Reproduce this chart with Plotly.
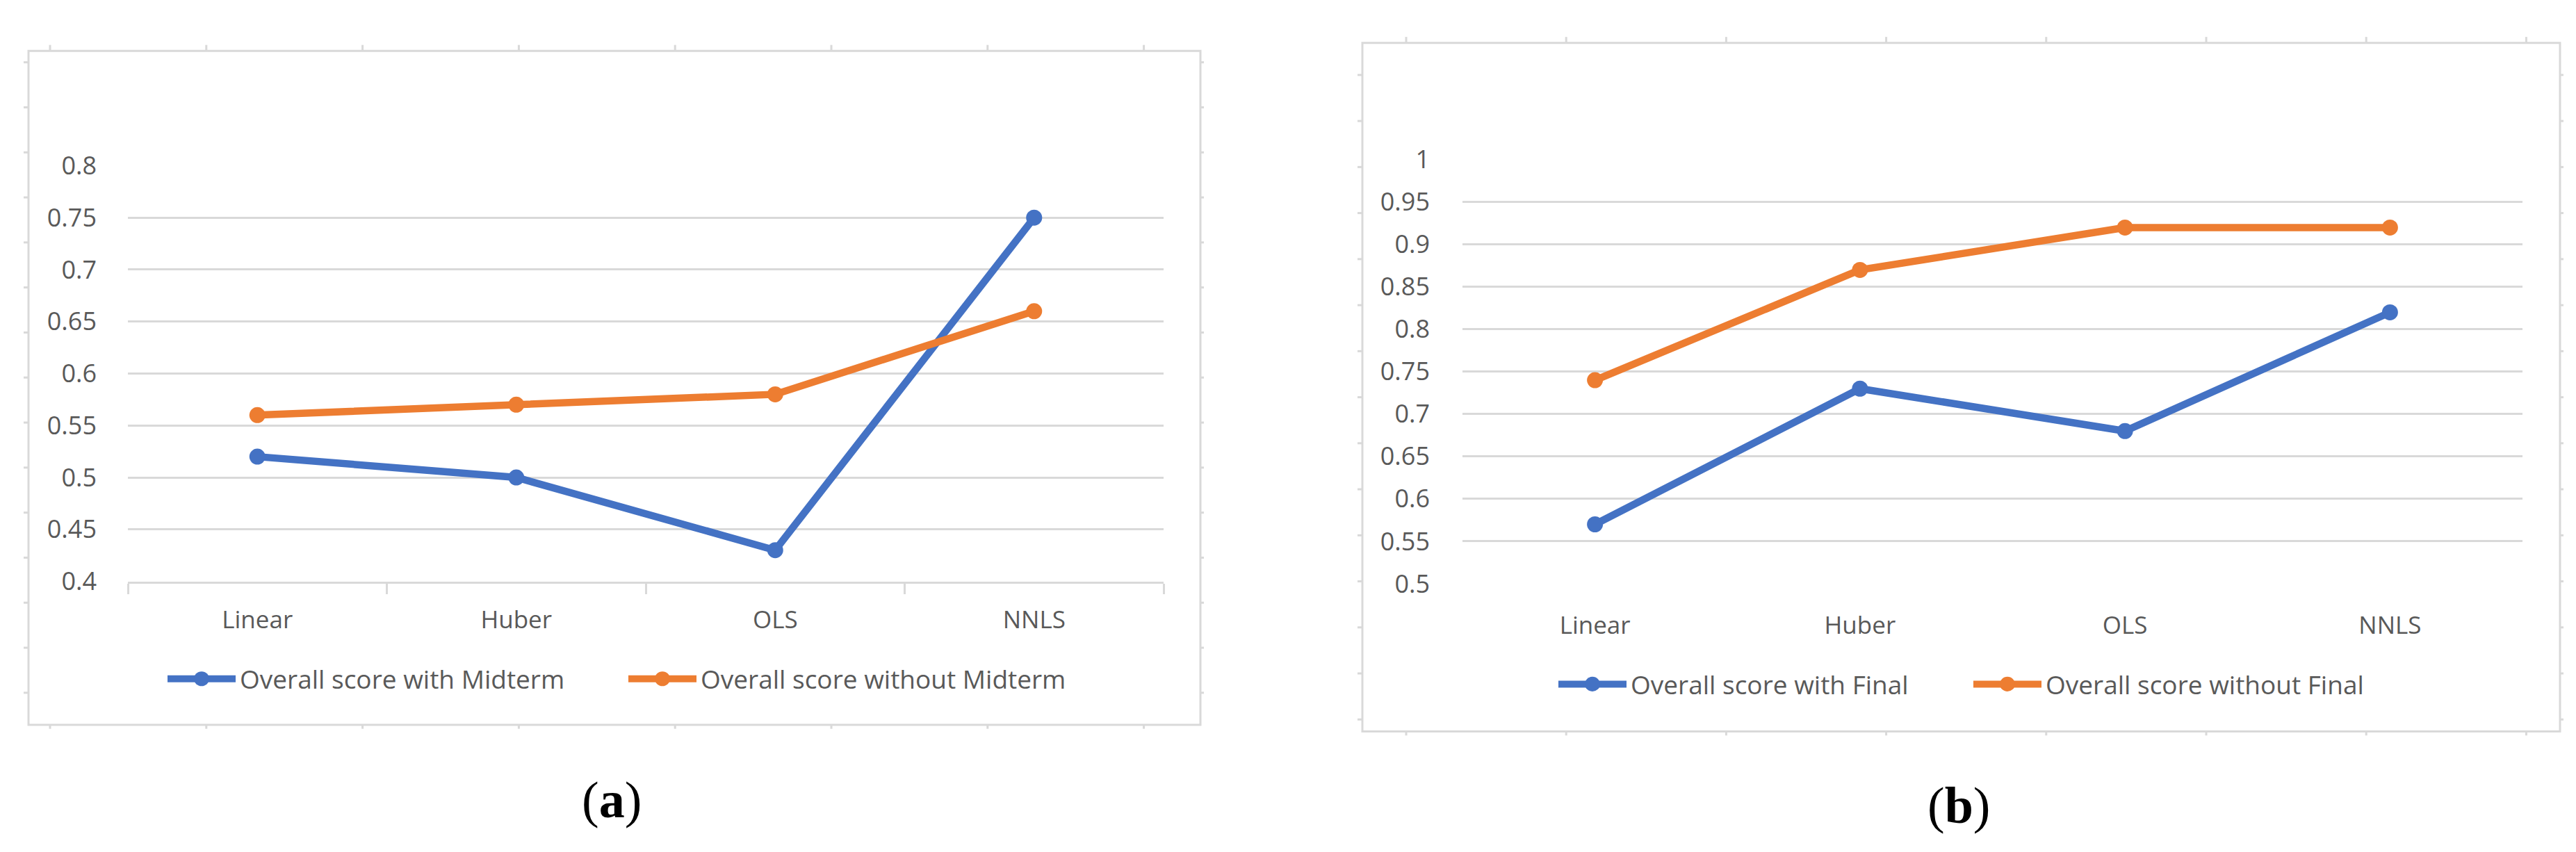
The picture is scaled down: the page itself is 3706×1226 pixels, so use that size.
import plotly.graph_objects as go

# ---------------- data ----------------
categories = ["Linear", "Huber", "OLS", "NNLS"]
with_midterm = [0.52, 0.50, 0.43, 0.75]
without_midterm = [0.56, 0.57, 0.58, 0.66]
with_final = [0.57, 0.73, 0.68, 0.82]
without_final = [0.74, 0.87, 0.92, 0.92]

names_a = ["Overall score with Midterm", "Overall score without Midterm"]
names_b = ["Overall score with Final", "Overall score without Final"]

yticks_a = [0.4, 0.45, 0.5, 0.55, 0.6, 0.65, 0.7, 0.75, 0.8]
ytext_a = ["0.4", "0.45", "0.5", "0.55", "0.6", "0.65", "0.7", "0.75", "0.8"]
yticks_b = [0.5, 0.55, 0.6, 0.65, 0.7, 0.75, 0.8, 0.85, 0.9, 0.95, 1.0]
ytext_b = ["0.5", "0.55", "0.6", "0.65", "0.7", "0.75", "0.8", "0.85", "0.9", "0.95", "1"]

# ---------------- style ----------------
W, H = 3706, 1226
BLUE = "#4472C4"
ORANGE = "#ED7D31"
GRID = "#D9D9D9"
TXT = "#595959"
FONT = "Open Sans"


def px(x):
    return x / W


def py(y):
    return 1 - y / H


fig = go.Figure()

series = [
    ("x", "y", with_midterm, names_a[0], BLUE),
    ("x", "y", without_midterm, names_a[1], ORANGE),
    ("x2", "y2", with_final, names_b[0], BLUE),
    ("x2", "y2", without_final, names_b[1], ORANGE),
]
for xa, ya, vals, name, col in series:
    fig.add_trace(go.Scatter(
        x=categories, y=vals, name=name, xaxis=xa, yaxis=ya,
        mode="lines+markers",
        line=dict(color=col, width=10.5),
        marker=dict(color=col, size=23),
        showlegend=False,
    ))

axis_font = dict(family=FONT, size=36, color=TXT)

fig.update_layout(
    width=W, height=H,
    margin=dict(l=0, r=0, t=0, b=0),
    paper_bgcolor="white", plot_bgcolor="white",
    font=dict(family=FONT, color=TXT),
    xaxis=dict(
        domain=[px(176), px(1666)], anchor="y",
        type="category", range=[-0.5, 3.5],
        showgrid=False, showline=True, linecolor=GRID, linewidth=3,
        ticks="outside", tickson="boundaries", ticklen=15, tickwidth=3, tickcolor=GRID,
        tickfont=dict(family=FONT, size=35, color=TXT), ticklabelstandoff=22,
    ),
    yaxis=dict(
        domain=[py(837), py(214)], anchor="x",
        range=[0.4, 0.8], tickvals=yticks_a, ticktext=ytext_a,
        showgrid=True, gridcolor=GRID, gridwidth=3, zeroline=False, showline=False,
        ticks="", tickfont=axis_font, ticklabelstandoff=44,
    ),
    xaxis2=dict(
        domain=[px(2096), px(3621)], anchor="y2",
        type="category", range=[-0.5, 3.5],
        showgrid=False, showline=False, ticks="",
        tickfont=dict(family=FONT, size=35, color=TXT), ticklabelstandoff=36,
    ),
    yaxis2=dict(
        domain=[py(840.5), py(205)], anchor="x2",
        range=[0.5, 1.0], tickvals=yticks_b, ticktext=ytext_b,
        showgrid=True, gridcolor=GRID, gridwidth=3, zeroline=False, showline=False,
        ticks="", tickfont=axis_font, ticklabelstandoff=46,
    ),
)

shapes = []
annotations = []


def frame(x0, y0, x1, y1, xt, yt):
    shapes.append(dict(type="rect", xref="paper", yref="paper",
                       x0=px(x0), x1=px(x1), y0=py(y1), y1=py(y0),
                       line=dict(color=GRID, width=3), fillcolor="rgba(0,0,0,0)", layer="below"))
    for xv in xt:
        for (ya, yb) in [(y0 - 9, y0), (y1, y1 + 6)]:
            shapes.append(dict(type="line", xref="paper", yref="paper",
                               x0=px(xv), x1=px(xv), y0=py(ya), y1=py(yb),
                               line=dict(color=GRID, width=3)))
    for yv in yt:
        for (xa, xb) in [(x0 - 7, x0), (x1, x1 + 5)]:
            shapes.append(dict(type="line", xref="paper", yref="paper",
                               x0=px(xa), x1=px(xb), y0=py(yv), y1=py(yv),
                               line=dict(color=GRID, width=3)))


frame(33, 42, 1719, 1052,
      [64 + 224.8 * k for k in range(8)],
      [59 + 67.5 * k for k in range(15)])
frame(1952, 30, 3675, 1062,
      [2015 + 230.2 * k for k in range(8)],
      [78 + 69 * k for k in range(15)])


def legend_item(x_line0, y, name, col):
    shapes.append(dict(type="line", xref="paper", yref="paper",
                       x0=px(x_line0), x1=px(x_line0 + 98), y0=py(y), y1=py(y),
                       line=dict(color=col, width=10)))
    cx = x_line0 + 49
    shapes.append(dict(type="circle", xref="paper", yref="paper",
                       x0=px(cx - 11), x1=px(cx + 11), y0=py(y + 11), y1=py(y - 11),
                       fillcolor=col, line=dict(color=col, width=0)))
    annotations.append(dict(xref="paper", yref="paper", x=px(x_line0 + 102), y=py(y),
                            xanchor="left", yanchor="middle", showarrow=False,
                            text=name, font=dict(family=FONT, size=37, color=TXT)))


legend_item(233, 983, names_a[0], BLUE)
legend_item(896, 983, names_a[1], ORANGE)
legend_item(2234, 991, names_b[0], BLUE)
legend_item(2831, 991, names_b[1], ORANGE)

annotations.append(dict(xref="paper", yref="paper", x=px(872), y=py(1165),
                        xanchor="center", yanchor="middle", showarrow=False,
                        text="(<b>a</b>)", font=dict(family="Liberation Serif", size=74, color="black")))
annotations.append(dict(xref="paper", yref="paper", x=px(2810), y=py(1173),
                        xanchor="center", yanchor="middle", showarrow=False,
                        text="(<b>b</b>)", font=dict(family="Liberation Serif", size=74, color="black")))

fig.update_layout(shapes=shapes, annotations=annotations)

fig.write_html("out.html")
